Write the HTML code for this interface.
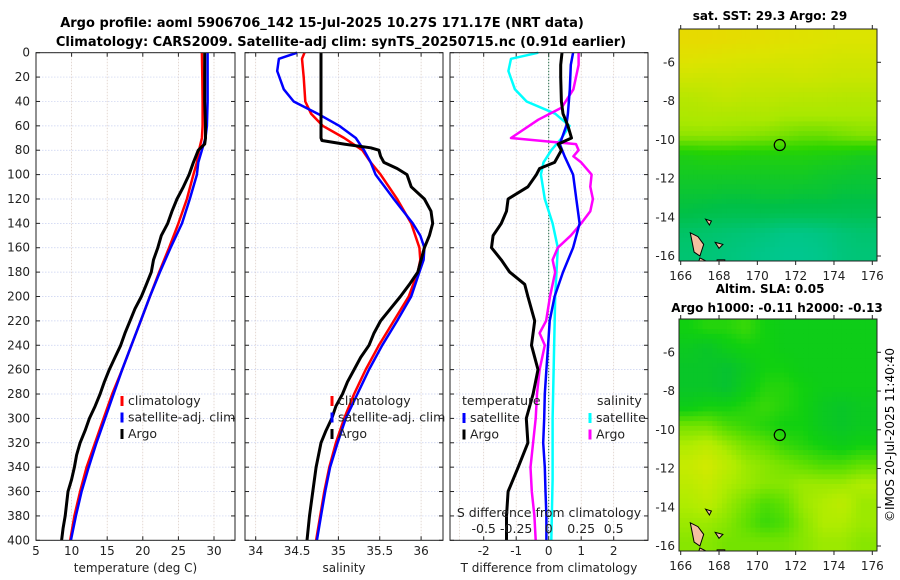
<!DOCTYPE html>
<html><head><meta charset="utf-8">
<style>
body{margin:0;background:#fff;}
svg{display:block;font-family:"DejaVu Sans","Liberation Sans",sans-serif;}
</style></head>
<body>
<svg id="c" width="900" height="580" viewBox="0 0 900 580" xmlns="http://www.w3.org/2000/svg">
<text x="322" y="27" font-size="13" font-weight="bold" text-anchor="middle">Argo profile: aoml 5906706_142 15-Jul-2025 10.27S 171.17E (NRT data)</text>
<text x="341" y="46" font-size="13" font-weight="bold" text-anchor="middle">Climatology: CARS2009. Satellite-adj clim: synTS_20250715.nc (0.91d earlier)</text>
<text x="770" y="20" font-size="12" font-weight="bold" text-anchor="middle">sat. SST: 29.3 Argo: 29</text>
<text x="770" y="293" font-size="12" font-weight="bold" text-anchor="middle">Altim. SLA: 0.05</text>
<text x="777" y="312" font-size="12" font-weight="bold" text-anchor="middle">Argo h1000: -0.11 h2000: -0.13</text>
<text transform="translate(894,435) rotate(-90)" font-size="12" text-anchor="middle">©IMOS 20-Jul-2025 11:40:40</text>
<g id="g"></g>
</svg>
<script>
// ---- depth profile data ----
const depthClim=[0,20,40,60,70,80,90,100,120,140,160,180,200,220,240,260,280,300,320,340,360,380,400];
const tempClim=[28.3,28.36,28.4,28.4,28.3,27.9,27.6,27.1,26.2,25.0,23.7,22.3,21.0,19.7,18.4,17.1,15.7,14.5,13.3,12.1,11.2,10.4,9.8];
const tempSat=[29.1,29.1,29.1,29.0,28.8,28.3,27.8,27.6,26.6,25.5,23.9,22.4,21.0,19.7,18.4,17.1,15.9,14.7,13.5,12.4,11.4,10.6,9.9];
const depthArgoT=[0,20,40,60,70,75,80,90,100,110,120,130,140,150,160,170,180,190,200,210,220,230,240,250,260,270,280,290,300,310,320,330,340,350,360,370,380,390,400];
const tempArgo=[28.7,28.7,28.7,28.8,28.8,28.7,27.8,27.1,26.5,25.7,24.8,24.1,23.5,22.6,22.1,21.5,21.2,20.5,19.8,18.9,18.2,17.5,16.9,16.1,15.3,14.6,14.0,13.3,12.5,11.9,11.2,10.7,10.4,10.0,9.5,9.3,9.1,8.8,8.6];
const depthSalClim=[0,5,20,40,50,60,70,80,90,100,120,140,160,170,180,200,220,240,260,280,300,320,340,360,380,400];
const salClim=[34.59,34.56,34.58,34.60,34.67,34.81,35.07,35.29,35.39,35.51,35.71,35.88,35.98,35.99,35.96,35.85,35.67,35.49,35.33,35.19,35.07,34.97,34.89,34.83,34.78,34.73];
const depthSalSat=[0,5,15,30,40,50,60,70,80,90,100,120,140,150,160,170,180,200,220,240,260,280,300,320,340,360,380,400];
const salSat=[34.50,34.28,34.26,34.34,34.46,34.75,35.01,35.21,35.31,35.39,35.45,35.67,35.90,35.99,36.04,36.03,35.98,35.88,35.71,35.53,35.37,35.23,35.09,34.99,34.90,34.84,34.79,34.74];
const depthSalArgo=[0,70,72,75,78,80,85,90,95,100,110,120,130,140,150,160,170,180,190,200,210,220,230,240,250,260,270,280,290,300,310,320,340,360,380,400];
const salArgo=[34.79,34.79,34.80,35.07,35.39,35.49,35.51,35.55,35.71,35.83,35.88,36.04,36.12,36.14,36.10,36.04,36.00,35.96,35.86,35.75,35.63,35.51,35.43,35.37,35.27,35.19,35.11,35.05,34.97,34.92,34.85,34.79,34.73,34.69,34.65,34.62];
const depthDTSat=[0,10,30,50,60,75,85,100,120,140,160,180,200,220,240,260,280,300,320,340,360,380,400];
const dTSat=[0.75,0.68,0.65,0.59,0.54,0.34,0.49,0.75,0.85,0.95,0.75,0.44,0.18,0.03,-0.02,-0.07,-0.12,-0.14,-0.17,-0.12,-0.10,-0.07,-0.07];
const depthDTArgo=[0,10,20,40,50,60,70,75,80,90,95,100,110,120,130,140,150,160,170,180,190,200,220,240,260,280,300,320,340,360,380,400];
const dTArgo=[0.41,0.37,0.37,0.39,0.44,0.59,0.70,0.29,0.39,0.18,-0.28,-0.38,-0.64,-1.25,-1.30,-1.46,-1.71,-1.76,-1.46,-1.20,-0.74,-0.64,-0.43,-0.53,-0.33,-0.48,-0.69,-0.64,-0.94,-1.25,-1.30,-1.30];
const depthDSSat=[0,5,15,30,40,50,60,70,80,90,100,120,140,160,180,200,250,300,350,400];
const dSSat=[-0.08,-0.29,-0.31,-0.26,-0.17,0.05,0.16,0.10,0.02,-0.04,-0.06,-0.03,0.03,0.07,0.06,0.05,0.04,0.03,0.03,0.02];
const depthDSArgo=[0,10,30,45,55,70,75,80,85,90,100,110,120,130,140,150,160,170,180,190,200,220,230,240,260,280,300,320,340,360,380,400];
const dSArgo=[0.23,0.23,0.19,0.10,-0.08,-0.29,0.21,0.23,0.19,0.25,0.33,0.32,0.34,0.32,0.25,0.17,0.07,0.03,0.05,0.03,0.01,-0.02,-0.07,-0.03,-0.07,-0.09,-0.10,-0.12,-0.14,-0.13,-0.11,-0.10];
const depthTicks=[0,20,40,60,80,100,120,140,160,180,200,220,240,260,280,300,320,340,360,380,400];
const tempTicks=[5,10,15,20,25,30];
const salTicks=[34,34.5,35,35.5,36];
const dTTicks=[-2,-1,0,1,2];
const dSTickLabels=["-0.5","-0.25","0","0.25","0.5"];
// ---- map data (rows from north to south, 1 deg each; cols 166..176) ----
const sstGrid=[
[.97,.97,.96,.95,.94,.93,.92,.91,.9,.9,.9],
[.92,.91,.9,.89,.89,.88,.88,.87,.86,.86,.86],
[.85,.84,.85,.84,.83,.83,.84,.83,.82,.82,.82],
[.76,.78,.8,.78,.78,.77,.76,.76,.75,.75,.75],
[.72,.73,.72,.72,.72,.7,.7,.7,.7,.7,.7],
[.66,.66,.66,.65,.64,.62,.6,.6,.62,.64,.64],
[.45,.47,.47,.46,.46,.46,.46,.45,.44,.42,.42],
[.4,.4,.4,.4,.4,.4,.4,.38,.37,.36,.36],
[.35,.35,.34,.34,.35,.35,.34,.34,.32,.32,.32],
[.3,.28,.27,.27,.27,.26,.26,.26,.26,.26,.26],
[.18,.16,.14,.12,.1,.06,.06,.08,.12,.15,.15],
[.14,.12,.1,.08,.05,.03,.03,.05,.1,.12,.12]];
const slaGrid=[
[.35,.4,.4,.45,.35,.3,.3,.3,.3,.3,.3],
[.25,.2,.3,.35,.35,.3,.3,.3,.3,.3,.3],
[.2,.2,.15,.25,.35,.35,.3,.3,.3,.3,.3],
[.2,.2,.15,.3,.4,.4,.35,.3,.3,.3,.3],
[.3,.35,.35,.4,.45,.4,.35,.25,.2,.25,.25],
[.6,.6,.5,.45,.4,.35,.35,.25,.2,.25,.25],
[.75,.8,.7,.6,.55,.45,.4,.35,.3,.35,.35],
[.85,.9,.8,.7,.65,.6,.55,.5,.5,.55,.55],
[.8,.85,.75,.7,.65,.65,.7,.7,.7,.75,.75],
[.75,.8,.7,.6,.5,.55,.7,.75,.8,.7,.7],
[.7,.7,.65,.55,.45,.5,.65,.75,.75,.7,.7],
[.65,.65,.6,.6,.6,.6,.65,.7,.7,.65,.65]];
const lonTicks=[166,168,170,172,174,176];
const latTicks=[-6,-8,-10,-12,-14,-16];
const argoLon=171.17, argoLat=-10.27;

const NS="http://www.w3.org/2000/svg";
const G=document.getElementById('g');
function mk(t,a,p){const e=document.createElementNS(NS,t);for(const k in a)e.setAttribute(k,a[k]);(p||G).appendChild(e);return e;}
const Y0=52.7,YK=1.219;
const yD=d=>Y0+d*YK;
const P1={x0:36,x1:235,sx:t=>36+(t-5)*7.12};
const P2={x0:245,x1:443,sx:s=>255.7+(s-34)*82.7};
const P3={x0:450,x1:648,sx:t=>548.7+t*32.5};
const sxS=s=>P3.sx(s*4);

function panel(P,name,xticks,xlabels,title,gridXs){
  const g=mk('g',{});
  
  
  gridXs.forEach(x=>{const l=mk('line',{x1:x,x2:x,y1:Y0,y2:yD(400),stroke:'#d8c8c0','stroke-width':0.7,'stroke-dasharray':'1.5,1.5'},g);});
  depthTicks.forEach(d=>{const l=mk('line',{x1:P.x0,x2:P.x1,y1:yD(d),y2:yD(d),stroke:'#c8d0f0','stroke-width':0.7,'stroke-dasharray':'1.5,1.5'},g);
    mk('line',{x1:P.x0,x2:P.x0+4,y1:yD(d),y2:yD(d),stroke:'#222'},g);mk('line',{x1:P.x1-4,x2:P.x1,y1:yD(d),y2:yD(d),stroke:'#222'},g);});
  xticks.forEach((v,i)=>{const x=P.sx(v);mk('line',{x1:x,x2:x,y1:yD(400),y2:yD(400)-4,stroke:'#222'},g);mk('line',{x1:x,x2:x,y1:Y0,y2:Y0+4,stroke:'#222'},g);
    const t=mk('text',{x:x,y:555,'font-size':12,'text-anchor':'middle',fill:'#222'},g);t.textContent=xlabels[i];});
  const tt=mk('text',{x:(P.x0+P.x1)/2,y:572,'font-size':12,'text-anchor':'middle',fill:'#222'},g);tt.textContent=title;
  return g;
}
function series(g,P,xs,ds,sx,color,w,name){
  const pts=xs.map((v,i)=>sx(v).toFixed(1)+','+yD(ds[i]).toFixed(1)).join(' ');
  const e=mk('polyline',{points:pts,fill:'none',stroke:color,'stroke-width':w,'stroke-linejoin':'round'},g);
  
  
}
function frame(g,P){const r=mk('rect',{x:P.x0,y:Y0,width:P.x1-P.x0,height:yD(400)-Y0,fill:'none',stroke:'#222','stroke-width':1},g);}
function legend(g,x,y,items){items.forEach((it,i)=>{mk('line',{x1:x,x2:x,y1:y+i*16.5-9,y2:y+i*16.5+1,stroke:it[1],'stroke-width':3},g);
  const t=mk('text',{x:x+6,y:y+i*16.5,'font-size':12.5,fill:'#222'},g);t.textContent=it[0];});}

depthTicks.forEach(d=>{const t=mk('text',{x:30,y:yD(d)+4,'font-size':12,'text-anchor':'end',fill:'#222'});t.textContent=d;});

const g1=panel(P1,'temperature-panel',tempTicks,tempTicks.map(String),'temperature (deg C)',tempTicks.map(P1.sx));
series(g1,P1,tempClim,depthClim,P1.sx,'#ff0000',2.5,'temp-climatology-line');
series(g1,P1,tempSat,depthClim,P1.sx,'#0000ff',2.5,'temp-satellite-line');
series(g1,P1,tempArgo,depthArgoT,P1.sx,'#000',3,'temp-argo-line');
legend(g1,122,405,[['climatology','#f00'],['satellite-adj. clim','#00f'],['Argo','#000']]);
frame(g1,P1);

const g2=panel(P2,'salinity-panel',salTicks,salTicks.map(String),'salinity',salTicks.map(P2.sx));
series(g2,P2,salClim,depthSalClim,P2.sx,'#ff0000',2.5,'sal-climatology-line');
series(g2,P2,salSat,depthSalSat,P2.sx,'#0000ff',2.5,'sal-satellite-line');
series(g2,P2,salArgo,depthSalArgo,P2.sx,'#000',3,'sal-argo-line');
legend(g2,332,405,[['climatology','#f00'],['satellite-adj. clim','#00f'],['Argo','#000']]);
frame(g2,P2);

const g3=panel(P3,'difference-panel',dTTicks,dTTicks.map(String),'T difference from climatology',[-2.75,-2,-1,1,2].map(P3.sx));
const z=mk('line',{x1:P3.sx(0),x2:P3.sx(0),y1:Y0,y2:yD(400),stroke:'#264',"stroke-width":1,'stroke-dasharray':'1.5,1.5'},g3);
series(g3,P3,dSSat,depthDSSat,sxS,'#00ffff',2.5,'sal-diff-satellite-line');
series(g3,P3,dSArgo,depthDSArgo,sxS,'#ff00ff',2.5,'sal-diff-argo-line');
series(g3,P3,dTSat,depthDTSat,P3.sx,'#0000ff',2.5,'temp-diff-satellite-line');
series(g3,P3,dTArgo,depthDTArgo,P3.sx,'#000',3,'temp-diff-argo-line');
{const t=mk('text',{x:462,y:405,'font-size':12.5,fill:'#222'},g3);t.textContent='temperature';
 const s=mk('text',{x:597,y:405,'font-size':12.5,fill:'#222'},g3);s.textContent='salinity';}
legend(g3,464,422,[['satellite','#00f'],['Argo','#000']]);
legend(g3,590,422,[['satellite','#0ff'],['Argo','#f0f']]);
{const t=mk('text',{x:549,y:517,'font-size':12.5,'text-anchor':'middle',fill:'#222'},g3);t.textContent='S difference from climatology';
 dSTickLabels.forEach((l,i)=>{const e=mk('text',{x:P3.sx(dTTicks[i]),y:533,'font-size':12.5,'text-anchor':'middle',fill:'#222'},g3);e.textContent=l;});}
frame(g3,P3);

// ---- maps ----
function lerpPal(stops,v){v=Math.max(0,Math.min(1,v));for(let i=1;i<stops.length;i++){if(v<=stops[i][0]){const a=stops[i-1],b=stops[i],f=(v-a[0])/(b[0]-a[0]);const c=a[1].map((x,k)=>Math.round(x+(b[1][k]-x)*f));return 'rgb('+c.join(',')+')';}}return 'rgb('+stops[stops.length-1][1].join(',')+')';}
const palSST=[[0,[0,200,150]],[.3,[0,192,70]],[.5,[40,212,0]],[.7,[168,232,0]],[.9,[220,228,0]],[1,[236,214,0]]];
const palSLA=[[0,[0,184,72]],[.35,[16,208,16]],[.55,[96,224,0]],[.75,[176,236,0]],[1,[232,232,0]]];
function sample(grid,r,c){
  const R=grid.length-1,C=grid[0].length-1;
  r=Math.max(0,Math.min(R,r));c=Math.max(0,Math.min(C,c));
  const r0=Math.floor(r),c0=Math.floor(c),r1=Math.min(R,r0+1),c1=Math.min(C,c0+1),fr=r-r0,fc=c-c0;
  return grid[r0][c0]*(1-fr)*(1-fc)+grid[r0][c1]*(1-fr)*fc+grid[r1][c0]*fr*(1-fc)+grid[r1][c1]*fr*fc;
}
function map(name,top,grid,pal){
  const M={x0:679,x1:877,y0:top,y1:top+232,lon:l=>680.7+(l-166)*19.16,lat:la=>top+33.3+(-6-la)*19.37};
  const g=mk('g',{});
  
  
  const cp=mk('clipPath',{id:name+'-clip'},g);mk('rect',{x:M.x0,y:M.y0,width:M.x1-M.x0,height:M.y1-M.y0},cp);
  const cg=mk('g',{'clip-path':'url(#'+name+'-clip)'},g);
  const sub=4;
  for(let r=0;r<grid.length*sub;r++)for(let c=0;c<grid[0].length*sub;c++){
    const gr=(r+0.5)/sub-0.5,gc=(c+0.5)/sub-0.5;
    const v=sample(grid,gr,gc);
    const la=-4.3-r/sub,lo=165.9+c/sub;
    const e=mk('rect',{x:M.lon(lo).toFixed(1),y:M.lat(la).toFixed(1),width:5.2,height:5.3,fill:lerpPal(pal,v)},cg);
    
    
  }
  [[[166.5,-14.8],[166.9,-15.0],[167.2,-15.4],[167.0,-16.0],[166.7,-15.8],[166.6,-15.3]],[[167.3,-14.1],[167.6,-14.2],[167.5,-14.4]],[[167.8,-15.3],[168.2,-15.4],[168.0,-15.6]],[[167.0,-16.1],[167.4,-16.3],[166.9,-16.4]],[[167.9,-16.2],[168.3,-16.2],[168.3,-16.5],[167.9,-16.5]]].forEach(poly=>{
    const e=mk('polygon',{points:poly.map(p=>M.lon(p[0]).toFixed(1)+','+M.lat(p[1]).toFixed(1)).join(' '),fill:'#f4c0a0',stroke:'#000','stroke-width':1},cg);
    });
  const ci=mk('circle',{cx:M.lon(argoLon),cy:M.lat(argoLat),r:5.5,fill:'none',stroke:'#000','stroke-width':1.2},g);
  
  mk('rect',{x:M.x0,y:M.y0,width:M.x1-M.x0,height:M.y1-M.y0,fill:'none',stroke:'#222'},g);
  lonTicks.forEach(l=>{const x=M.lon(l);mk('line',{x1:x,x2:x,y1:M.y0,y2:M.y0-4,stroke:'#222'},g);mk('line',{x1:x,x2:x,y1:M.y1,y2:M.y1+4,stroke:'#222'},g);
    const t=mk('text',{x:x,y:M.y1+19,'font-size':12,'text-anchor':'middle',fill:'#222'},g);t.textContent=l;});
  latTicks.forEach(la=>{const y=M.lat(la);mk('line',{x1:M.x1,x2:M.x1+4,y1:y,y2:y,stroke:'#222'},g);
    const t=mk('text',{x:675,y:y+4,'font-size':12,'text-anchor':'end',fill:'#222'},g);t.textContent=la;});
}
map('sst-map',29,sstGrid,palSST);
map('sla-map',319,slaGrid,palSLA);
</script>
</body></html>
